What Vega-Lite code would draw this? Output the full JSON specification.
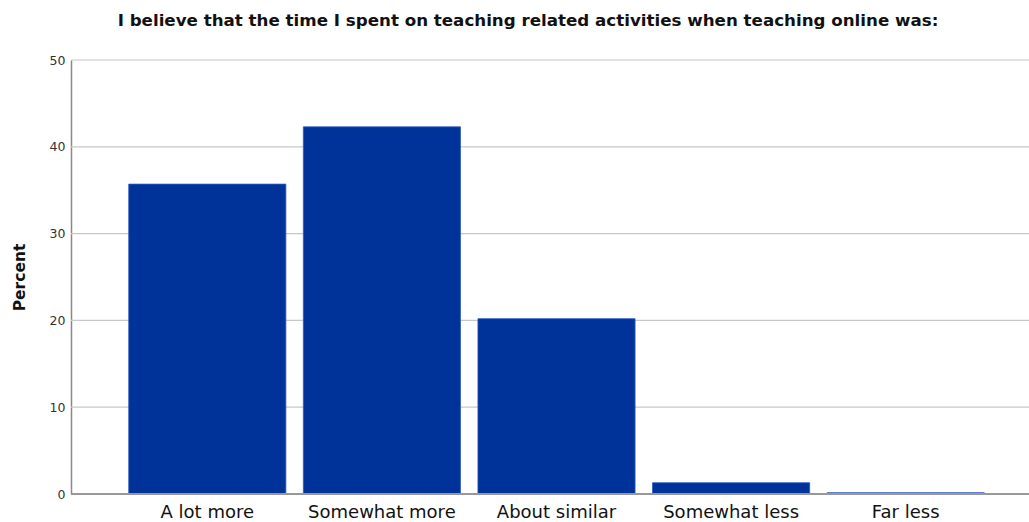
{
  "$schema": "https://vega.github.io/schema/vega-lite/v6.json",
  "width": 958,
  "height": 434,
  "autosize": {"type": "none"},
  "padding": {"left": 71, "top": 60, "right": 0, "bottom": 28},
  "background": "white",
  "title": {
    "text": "I believe that the time I spent on teaching related activities when teaching online was:",
    "font": "DejaVu Sans",
    "fontSize": 16.7,
    "fontWeight": "bold",
    "color": "#111111",
    "anchor": "middle",
    "dx": -22,
    "offset": 24
  },
  "config": {
    "view": {"stroke": null},
    "font": "DejaVu Sans"
  },
  "datasets": {
    "bars": [
      {"category": "A lot more", "percent": 35.7},
      {"category": "Somewhat more", "percent": 42.3},
      {"category": "About similar", "percent": 20.2},
      {"category": "Somewhat less", "percent": 1.3},
      {"category": "Far less", "percent": 0.15}
    ],
    "grid": [
      {"level": 10},
      {"level": 20},
      {"level": 30},
      {"level": 40},
      {"level": 50}
    ]
  },
  "layer": [
    {
      "data": {"name": "grid"},
      "mark": {"type": "rule", "color": "#c8c8c8", "strokeWidth": 1.2},
      "encoding": {"y": {"field": "level", "type": "quantitative"}}
    },
    {
      "data": {"name": "bars"},
      "mark": {"type": "bar", "color": "#003399", "stroke": "#2d5bc0", "strokeWidth": 0.8},
      "encoding": {
        "x": {
          "field": "category",
          "type": "nominal",
          "sort": null,
          "scale": {"range": [49, 922], "paddingInner": 0.1, "paddingOuter": 0.05},
          "axis": {
            "title": null,
            "domain": false,
            "ticks": false,
            "labelAngle": 0,
            "labelFontSize": 18,
            "labelColor": "#111111",
            "labelPadding": 9,
            "labelFont": "DejaVu Sans"
          }
        },
        "y": {
          "field": "percent",
          "type": "quantitative",
          "scale": {"domain": [0, 50], "nice": false},
          "axis": {
            "title": "Percent",
            "titleFontSize": 15.5,
            "titleFontWeight": "bold",
            "titleColor": "#111111",
            "titleX": -52,
            "titleY": 217,
            "titleAngle": -90,
            "titleAlign": "center",
            "titleBaseline": "middle",
            "values": [0, 10, 20, 30, 40, 50],
            "labelFontSize": 12.5,
            "labelColor": "#333333",
            "labelPadding": 6,
            "ticks": false,
            "domainColor": "#888888",
            "domainWidth": 1.5,
            "grid": false
          }
        }
      }
    },
    {
      "data": {"name": "bars"},
      "mark": {"type": "rule", "color": "#999999", "strokeWidth": 1.5},
      "encoding": {"y": {"datum": 0, "type": "quantitative"}}
    }
  ]
}
